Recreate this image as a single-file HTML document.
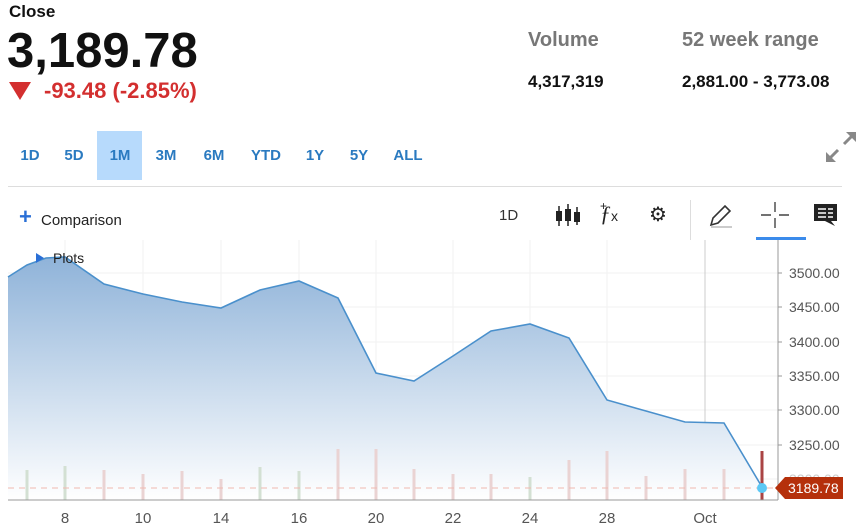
<!DOCTYPE html>
<html><head><meta charset="utf-8"><style>
body{margin:0;width:860px;height:528px;background:#fff;font-family:"Liberation Sans",sans-serif;position:relative;overflow:hidden}
.a{position:absolute;white-space:nowrap}
.tf{position:absolute;top:131px;height:49px;line-height:49px;color:#2a7ac0;font-size:15px;font-weight:bold;text-align:center}
</style></head><body>
<div class="a" style="left:9px;top:2px;font-size:17px;font-weight:bold;color:#111">Close</div>
<div class="a" style="left:7px;top:23px;font-size:49px;font-weight:bold;color:#111;letter-spacing:0px">3,189.78</div>
<div class="a" style="left:9px;top:82px;width:0;height:0;border-left:11px solid transparent;border-right:11px solid transparent;border-top:18px solid #d32f2f"></div>
<div class="a" style="left:44px;top:78px;font-size:22px;font-weight:bold;color:#d32f2f">-93.48 (-2.85%)</div>
<div class="a" style="left:528px;top:29px;font-size:20px;font-weight:bold;color:#777">Volume</div>
<div class="a" style="left:528px;top:72px;font-size:17px;font-weight:bold;color:#111">4,317,319</div>
<div class="a" style="left:682px;top:29px;font-size:20px;font-weight:bold;color:#777">52 week range</div>
<div class="a" style="left:682px;top:72px;font-size:17px;font-weight:bold;color:#111">2,881.00 - 3,773.08</div>
<div class="a" style="left:97px;top:131px;width:45px;height:49px;background:#b7dafc"></div>
<div class="tf" style="left:10px;width:40px">1D</div>
<div class="tf" style="left:54px;width:40px">5D</div>
<div class="tf" style="left:99px;width:42px">1M</div>
<div class="tf" style="left:146px;width:40px">3M</div>
<div class="tf" style="left:194px;width:40px">6M</div>
<div class="tf" style="left:246px;width:40px">YTD</div>
<div class="tf" style="left:295px;width:40px">1Y</div>
<div class="tf" style="left:339px;width:40px">5Y</div>
<div class="tf" style="left:387px;width:42px">ALL</div>
<svg class="a" style="left:824px;top:130px" width="34" height="34" viewBox="0 0 34 34"><g stroke="#888" stroke-width="3" fill="none"><path d="M4 30L14 20M20 14L30 4"/></g><path d="M2 32V22L12 32Z M32 2V12L22 2Z" fill="#888"/></svg>
<div class="a" style="left:8px;top:186px;width:834px;height:1px;background:#ddd"></div>
<div class="a" style="left:19px;top:206px;font-size:22px;font-weight:bold;color:#2a6fd6;line-height:22px">+</div>
<div class="a" style="left:41px;top:212px;font-size:15px;color:#222">Comparison</div>
<div class="a" style="left:499px;top:207px;font-size:15px;color:#333">1D</div>
<svg class="a" style="left:554px;top:203px" width="28" height="26"><g stroke="#222" stroke-width="1.5"><path d="M5 3V23M14 1V23M23 4V22"/></g><g fill="#222"><rect x="2" y="8" width="6" height="10"/><rect x="11" y="6" width="6" height="12"/><rect x="20" y="9" width="6" height="10"/></g></svg>
<div class="a" style="left:600px;top:201px;font-size:22px;font-style:italic;font-family:'Liberation Serif',serif;color:#222">ƒ<span style="font-size:14px;font-style:normal;font-family:'Liberation Sans'">x</span></div>
<div class="a" style="left:600px;top:199px;font-size:12px;color:#222">+</div>
<div class="a" style="left:649px;top:202px;font-size:20px;color:#222">⚙</div>
<div class="a" style="left:690px;top:200px;width:1px;height:40px;background:#ddd"></div>
<svg class="a" style="left:708px;top:203px" width="26" height="26"><path d="M3 22L5 15L17 3L22 8L10 20Z" fill="none" stroke="#333" stroke-width="1.6"/><path d="M3 24H24" stroke="#bbb" stroke-width="1.5"/></svg>
<svg class="a" style="left:761px;top:202px" width="28" height="26"><path d="M14 0V10M14 16V26M0 13H10M18 13H28" stroke="#444" stroke-width="1.4"/></svg>
<div class="a" style="left:756px;top:237px;width:50px;height:3px;background:#3b8beb"></div>
<svg class="a" style="left:813px;top:203px" width="25" height="24"><path d="M1 1H24V18H18L22 23L12 18H1Z" fill="#222"/><g stroke="#fff" stroke-width="1.5"><path d="M5 6H13M15 6H20M5 10H13M15 10H20M5 14H13M15 14H20"/></g></svg>
<svg class="a" style="left:0;top:240px" width="860" height="288">
<defs><linearGradient id="g" x1="0" y1="0" x2="0" y2="1"><stop offset="0" stop-color="#8fb3d9"/><stop offset="1" stop-color="#ffffff"/></linearGradient></defs>
<g stroke="#f2f2f2" stroke-width="1"><path d="M65 0V260M143 0V260M221 0V260M299 0V260M376 0V260M453 0V260M530 0V260M607 0V260"/><path d="M8 33H778M8 67H778M8 102H778M8 136H778M8 170H778M8 205H778M8 239H778"/></g>
<path d="M705 0V260" stroke="#ccc"/>
<path d="M8 37L27 25L46 18L65 17L104 44L143 54L182 62L221 68L260 50L299 41L338 58L376 133L414 141L453 116L491 91L530 84L569 98L607 160L646 171L685 182L724 183L762 247L762 260L8 260Z" fill="url(#g)"/>
<path d="M8 37L27 25L46 18L65 17L104 44L143 54L182 62L221 68L260 50L299 41L338 58L376 133L414 141L453 116L491 91L530 84L569 98L607 160L646 171L685 182L724 183L762 247" fill="none" stroke="#4a90cc" stroke-width="1.6"/>
<g stroke-width="3">
<path d="M27 230V260M65 226V260M260 227V260M299 231V260M530 237V260" stroke="#d3e0d3"/>
<path d="M104 230V260M143 234V260M182 231V260M221 239V260M338 209V260M376 209V260M414 229V260M453 234V260M491 234V260M569 220V260M607 211V260M646 236V260M685 229V260M724 229V260" stroke="#ead3d3"/>
<path d="M762 211V260" stroke="#a44" />
</g>
<path d="M8 248H778" stroke="#f0b8b0" stroke-dasharray="6,5"/>
<path d="M8 260H778M778 0V260" stroke="#999"/>
<circle cx="762" cy="248" r="5" fill="#5cc8f5"/>
<g font-size="14" fill="#555" font-family="Liberation Sans">
<path d="M778 33h4M778 67h4M778 102h4M778 136h4M778 170h4M778 205h4" stroke="#999"/>
<text x="789" y="38">3500.00</text><text x="789" y="72">3450.00</text><text x="789" y="107">3400.00</text><text x="789" y="141">3350.00</text><text x="789" y="175">3300.00</text><text x="789" y="210">3250.00</text><text x="789" y="244" fill="#ccc">3200.00</text>
<g text-anchor="middle" font-size="15"><text x="65" y="283">8</text><text x="143" y="283">10</text><text x="221" y="283">14</text><text x="299" y="283">16</text><text x="376" y="283">20</text><text x="453" y="283">22</text><text x="530" y="283">24</text><text x="607" y="283">28</text><text x="705" y="283">Oct</text></g>
</g>
<path d="M775 248L785 237H843V259H785Z" fill="#b5300b"/>
<text x="788" y="253" font-size="14" fill="#fff" font-family="Liberation Sans">3189.78</text>
<path d="M36 13L44 18L36 23Z" fill="#2a6fd6"/>
<text x="53" y="23" font-size="14" fill="#222" font-family="Liberation Sans">Plots</text>
</svg>
</body></html>
